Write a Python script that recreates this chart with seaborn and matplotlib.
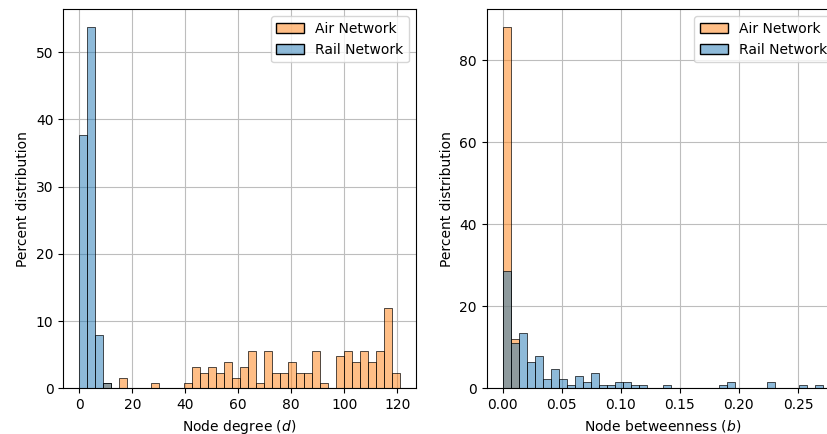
import numpy as np
import pandas as pd
import matplotlib
matplotlib.use("Agg")
import matplotlib.pyplot as plt
import seaborn as sns

# degree histogram: 40 bins over [0, 121]
DEG_EDGES = np.linspace(0, 121, 41)
deg_rail_bins = [0, 1, 2, 3]
deg_rail_pct = [37.7, 53.7, 8.0, 0.75]
deg_air_bins = [3, 5, 9, 13, 14, 15, 16, 17, 18, 19, 20, 21, 22, 23, 24, 25, 26,
                27, 28, 29, 30, 32, 33, 34, 35, 36, 37, 38, 39]
deg_air_pct = [0.75, 1.59, 0.75, 0.75, 3.13, 2.33, 3.13, 2.33, 3.97, 1.54, 3.13,
               5.56, 0.75, 5.56, 2.33, 2.33, 3.97, 2.33, 2.33, 5.56, 0.75, 4.76,
               5.56, 3.97, 5.56, 3.97, 5.56, 12.0, 2.33]

# betweenness histogram: 40 bins over [0, 0.2715]
BET_EDGES = np.linspace(0, 0.2715, 41)
bet_rail_bins = [0, 1, 2, 3, 4, 5, 6, 7, 8, 9, 10, 11, 12, 13, 14, 15, 16, 17,
                 20, 27, 28, 33, 37, 39]
bet_rail_pct = [28.7, 11.0, 13.6, 6.35, 7.8, 2.3, 4.7, 2.3, 0.75, 3.1, 1.5, 3.8,
                0.75, 0.75, 1.5, 1.5, 0.75, 0.75, 0.75, 0.75, 1.5, 1.5, 0.75, 0.75]
bet_air_bins = [0, 1]
bet_air_pct = [88.0, 11.9]

LABELS = ["Rail Network", "Air Network"]


def make_frame(edges, rail_bins, rail_pct, air_bins, air_pct):
    centers = (edges[:-1] + edges[1:]) / 2
    rail = pd.DataFrame({"x": centers[rail_bins], "w": rail_pct, "net": LABELS[0]})
    air = pd.DataFrame({"x": centers[air_bins], "w": air_pct, "net": LABELS[1]})
    return pd.concat([rail, air], ignore_index=True)


deg_df = make_frame(DEG_EDGES, deg_rail_bins, deg_rail_pct, deg_air_bins, deg_air_pct)
bet_df = make_frame(BET_EDGES, bet_rail_bins, bet_rail_pct, bet_air_bins, bet_air_pct)

fig, axes = plt.subplots(1, 2, figsize=(8.27, 4.34), dpi=100)

panels = [
    (axes[0], deg_df, DEG_EDGES, "Node degree ($d$)"),
    (axes[1], bet_df, BET_EDGES, "Node betweenness ($b$)"),
]
for ax, df, edges, xlabel in panels:
    sns.histplot(data=df, x="x", weights="w", hue="net", hue_order=LABELS,
                 bins=list(edges), ax=ax)
    ax.set_axisbelow(True)
    ax.grid(True, color="#bdbdbd")
    ax.set_xlabel(xlabel)
    ax.set_ylabel("Percent distribution")
    handles = ax.get_legend().legend_handles
    ax.legend(handles=[handles[1], handles[0]],
              labels=["Air Network", "Rail Network"], loc="upper right")

axes[0].set_position([0.0765, 0.1053, 0.4265, 0.8733])
axes[1].set_position([0.5885, 0.1053, 0.4265, 0.8733])

fig.savefig("out.png", dpi=100)
